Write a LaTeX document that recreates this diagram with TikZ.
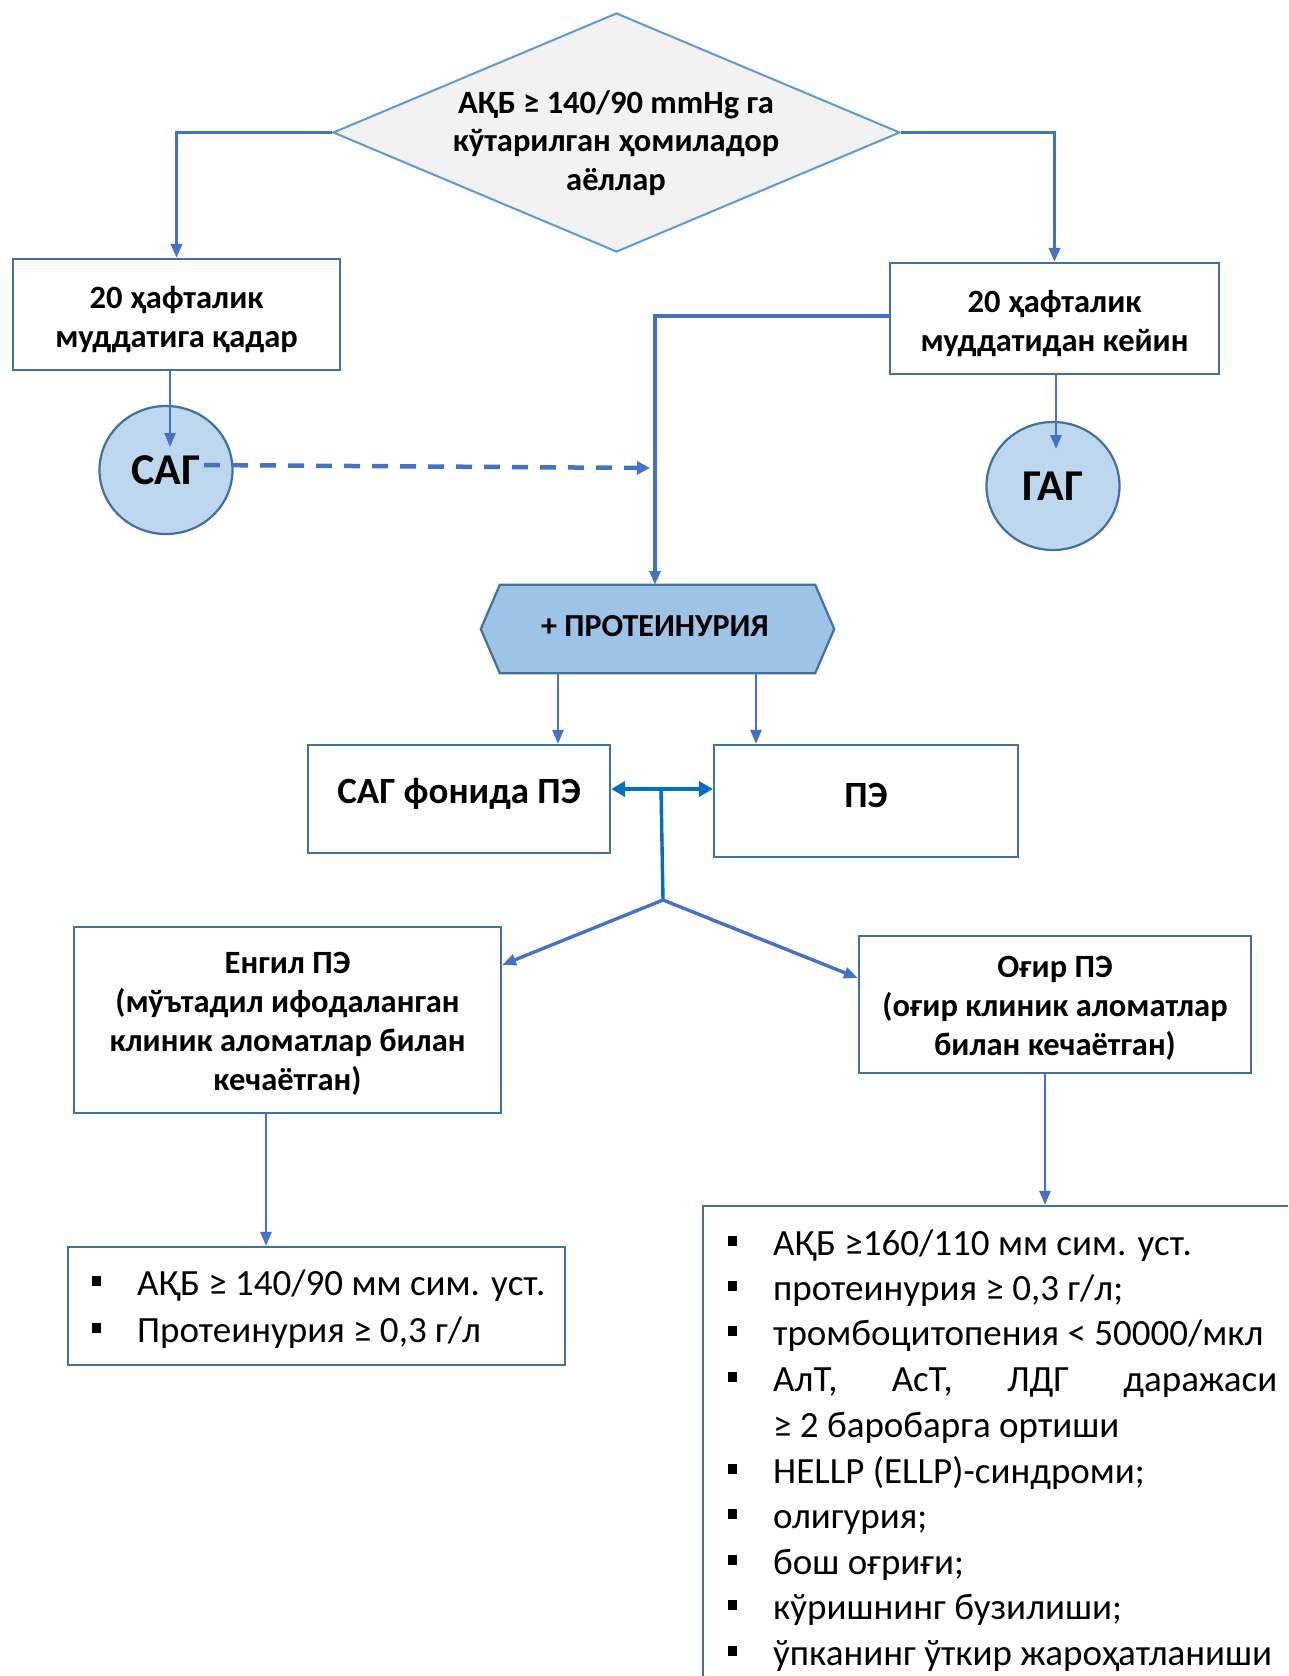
\documentclass[tikz,border=0pt]{standalone}
\usepackage{fontspec}
\setmainfont{Carlito}
\usetikzlibrary{arrows.meta,shapes.geometric}
\definecolor{conc}{HTML}{4472C4}
\definecolor{boxc}{HTML}{41719C}
\definecolor{diac}{HTML}{5B9BD5}
\definecolor{diaf}{HTML}{F2F2F2}
\definecolor{circf}{HTML}{BDD7EE}
\definecolor{hexf}{HTML}{9DC3E6}
\definecolor{dblc}{HTML}{0070C0}
\newcommand{\bul}{\makebox[0pt][r]{\rule[9pt]{8.5pt}{10pt}\hspace{36.5pt}}}
\newcommand{\tstrut}[1]{\rule{0pt}{#1pt}}
\begin{document}
\begin{tikzpicture}[x=1pt,y=-1pt,
  box/.style={draw=boxc, line width=2.2pt, fill=white, inner sep=0pt, align=center,
    font=\fontsize{32.5}{39}\selectfont\bfseries},
  circ/.style={ellipse, draw=boxc, line width=2.2pt, fill=circf, inner sep=0pt,
    minimum width=133, minimum height=128, font=\fontsize{44}{46}\selectfont\bfseries},
  conn/.style={draw=conc, line width=2.5pt, -{Triangle[length=14,width=11]}},
  thick conn/.style={conn, line width=3.4pt},
  litem/.style={anchor=base west, inner sep=0pt, font=\fontsize{37}{37}\selectfont},
  ]
\clip (0,0) rectangle (1288,1676);
\fill[white] (0,0) rectangle (1288,1676);

% diamond
\node[diamond, draw=diac, fill=diaf, line width=2pt, minimum width=567, minimum height=239, inner sep=0pt] (dia) at (616.5,132.5) {};
\node[align=center, font=\fontsize{32.5}{38.5}\selectfont\bfseries] (diat) at (616,143) {АҚБ ≥ 140/90 mmHg га\\кўтарилган ҳомиладор\\аёллар};

% boxes
\node[box, minimum width=327, minimum height=111] (b1) at (176.5,314.5) {\tstrut{31.5}20 ҳафталик\\муддатига қадар};
\node[box, minimum width=329, minimum height=111] (b2) at (1054.5,318.5) {\tstrut{31.5}20 ҳафталик\\муддатидан кейин};

\node[circ] (sag) at (166,470) {САГ};
\node[circ] (gag) at (1053,486) {ГАГ};

% hexagon
\node[inner sep=0pt, minimum width=353, minimum height=88] (hex) at (657.5,629) {};
\filldraw[draw=boxc, fill=hexf, line width=2.2pt]
  ([xshift=19]hex.north west) -- ([xshift=-19]hex.north east) -- (hex.east)
  -- ([xshift=-19]hex.south east) -- ([xshift=19]hex.south west) -- (hex.west) -- cycle;
\node[font=\fontsize{32}{34}\selectfont\bfseries] (hext) at (655,626) {+ ПРОТЕИНУРИЯ};

\node[box, minimum width=302, minimum height=108, text depth=16pt, font=\fontsize{37}{40}\selectfont\bfseries] (b3) at (459,799) {САГ фонида ПЭ};
\node[box, minimum width=304, minimum height=112, text depth=10.6pt, font=\fontsize{37}{40}\selectfont\bfseries] (b4) at (866,801) {ПЭ};

\node[box, minimum width=427, minimum height=186] (b5) at (287.5,1020)
  {\tstrut{29.5}Енгил ПЭ\\(мўътадил ифодаланган\\клиник аломатлар билан\\кечаётган)};
\node[box, minimum width=392, minimum height=137] (b6) at (1055,1004.5)
  {\tstrut{29.5}Оғир ПЭ\\(оғир клиник аломатлар\\билан кечаётган)};

\node[box, minimum width=497, minimum height=118] (b7) at (316.5,1306) {};
\node[box, minimum width=620, minimum height=494] (b8) at (1013,1453) {};

% lists
\node[litem] (l1) at (137,1295) {\bul АҚБ ≥ 140/90 мм сим. уст.};
\node[litem] (l2) at (137,1342) {\bul Протеинурия ≥ 0,3 г/л};

\node[litem] (r1) at (773,1255) {\bul АҚБ ≥160/110 мм сим. уст.};
\node[litem] (r2) at (773,1300) {\bul протеинурия ≥ 0,3 г/л;};
\node[litem] (r3) at (773,1345) {\bul тромбоцитопения < 50000/мкл};
\node[litem] (r4) at (773,1391) {\bul \makebox[504pt][s]{АлТ,\hfill АсТ,\hfill ЛДГ\hfill даражаси}};
\node[litem] (r5) at (773,1437) {≥ 2 баробарга ортиши};
\node[litem] (r6) at (773,1483) {\bul HELLP (ELLP)-синдроми;};
\node[litem] (r7) at (773,1528) {\bul олигурия;};
\node[litem] (r8) at (773,1574) {\bul бош оғриғи;};
\node[litem] (r9) at (773,1619) {\bul кўришнинг бузилиши;};
\node[litem] (r10) at (773,1665) {\bul ўпканинг ўткир жароҳатланиши};

% helper coordinates
\coordinate (sagin) at (170,447);
\coordinate (gagin) at (1056,449);
\coordinate (dashs) at (204,465);
\coordinate (dashe) at (650,468);
\coordinate (x558) at (558,0);
\coordinate (x756) at (756,0);
\coordinate (y789) at (0,789);
\coordinate (y316) at (0,316);
\coordinate (x655) at (655,0);
\coordinate (j1) at (661,789);
\coordinate (j2) at (663,900);
\coordinate (e965) at (0,965);
\coordinate (o978) at (0,978);
\coordinate (x266) at (266,0);
\coordinate (x1045) at (1045,0);

% connectors
\draw[thick conn] (dia.west) -| (b1.north);
\draw[thick conn] (dia.east) -| (b2.north);
\draw[conn] (b1.south -| sagin) -- (sagin);
\draw[conn] (b2.south -| gagin) -- (gagin);
\draw[thick conn] (b2.west |- y316) -| (hex.north -| x655);
\draw[conn, line width=4.5pt, dash pattern=on 16pt off 12pt, -{Triangle[length=13,width=13]}] (dashs) -- (dashe);
\draw[conn] (hex.south -| x558) -- (b3.north -| x558);
\draw[conn] (hex.south -| x756) -- (b4.north -| x756);
\draw[draw=dblc, line width=4pt, {Triangle[length=14,width=15]}-{Triangle[length=14,width=15]}] (b3.east |- y789) -- (b4.west |- y789);
\draw[draw=dblc, line width=3.4pt] (j1) -- (j2);
\draw[thick conn] (j2) -- (b5.east |- e965);
\draw[thick conn] (j2) -- (b6.west |- o978);
\draw[conn] (b5.south -| x266) -- (b7.north -| x266);
\draw[conn] (b6.south -| x1045) -- (b8.north -| x1045);
\end{tikzpicture}
\end{document}
